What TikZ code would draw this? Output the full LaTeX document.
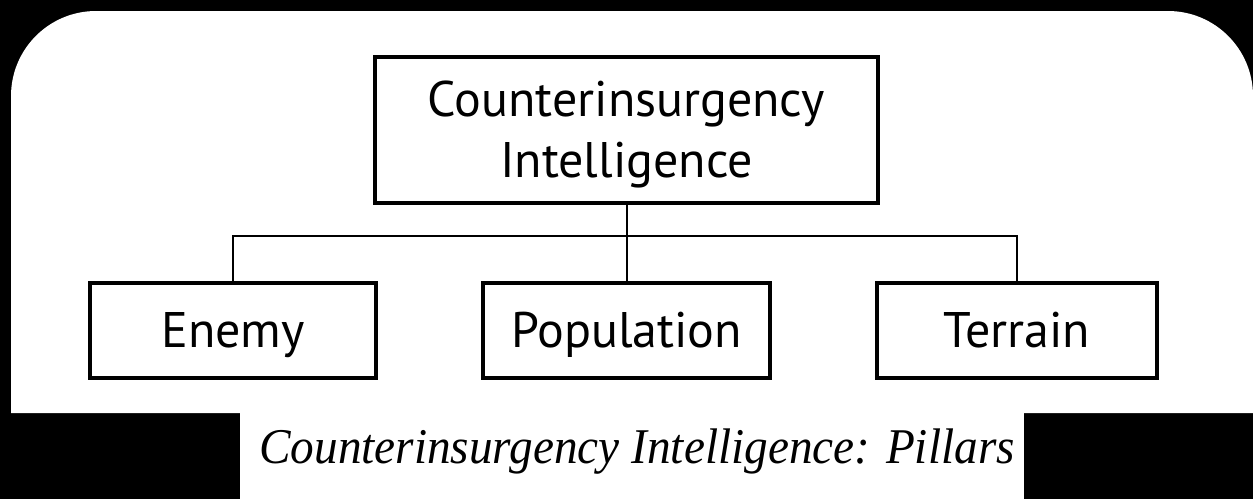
\documentclass[tikz,border=0pt]{standalone}
\usepackage{fontspec}
\setmainfont{PT Sans}
\newfontfamily\capfont{Liberation Serif}
\begin{document}
\begin{tikzpicture}[x=1pt,y=-1pt,
  box/.style={draw=black,line width=4pt,fill=white,rectangle,inner sep=0pt,
    font=\fontsize{50}{61}\selectfont,align=center},
  small/.style={box,minimum height=95pt,text height=33pt,text depth=0pt},
  conn/.style={draw=black,line width=2pt}]
\useasboundingbox (0,0) rectangle (1253,499);
\fill[black] (0,0) rectangle (1253,499);
\fill[white] (11,413) -- (11,96) arc[start angle=180,end angle=270,radius=85]
  -- (1168,11) arc[start angle=270,end angle=360,radius=85] -- (1253,413) -- cycle;
\fill[white] (240,412) rectangle (1024,499);
\node[box,minimum width=503pt,minimum height=146pt] (top) at (626.5,130) {\rule{0pt}{45pt}Counterinsurgency\\Intelligence};
\node[small,minimum width=286pt] (enemy) at (233,330.5) {Enemy};
\node[small,minimum width=287pt] (pop) at (626.5,330.5) {Population};
\node[small,minimum width=280pt] (terr) at (1017,330.5) {Terrain};
\coordinate (bus) at (626.5,236);
\draw[conn] (top.south) -- (pop.north);
\draw[conn] (enemy.north) |- (bus) -| (terr.north);
\node[anchor=base,inner sep=0pt,font=\capfont\itshape\fontsize{50}{60}\selectfont] (cap) at (637,463) {\scalebox{0.945}[1]{Counterinsurgency Intelligence: Pillars}};
\end{tikzpicture}
\end{document}
